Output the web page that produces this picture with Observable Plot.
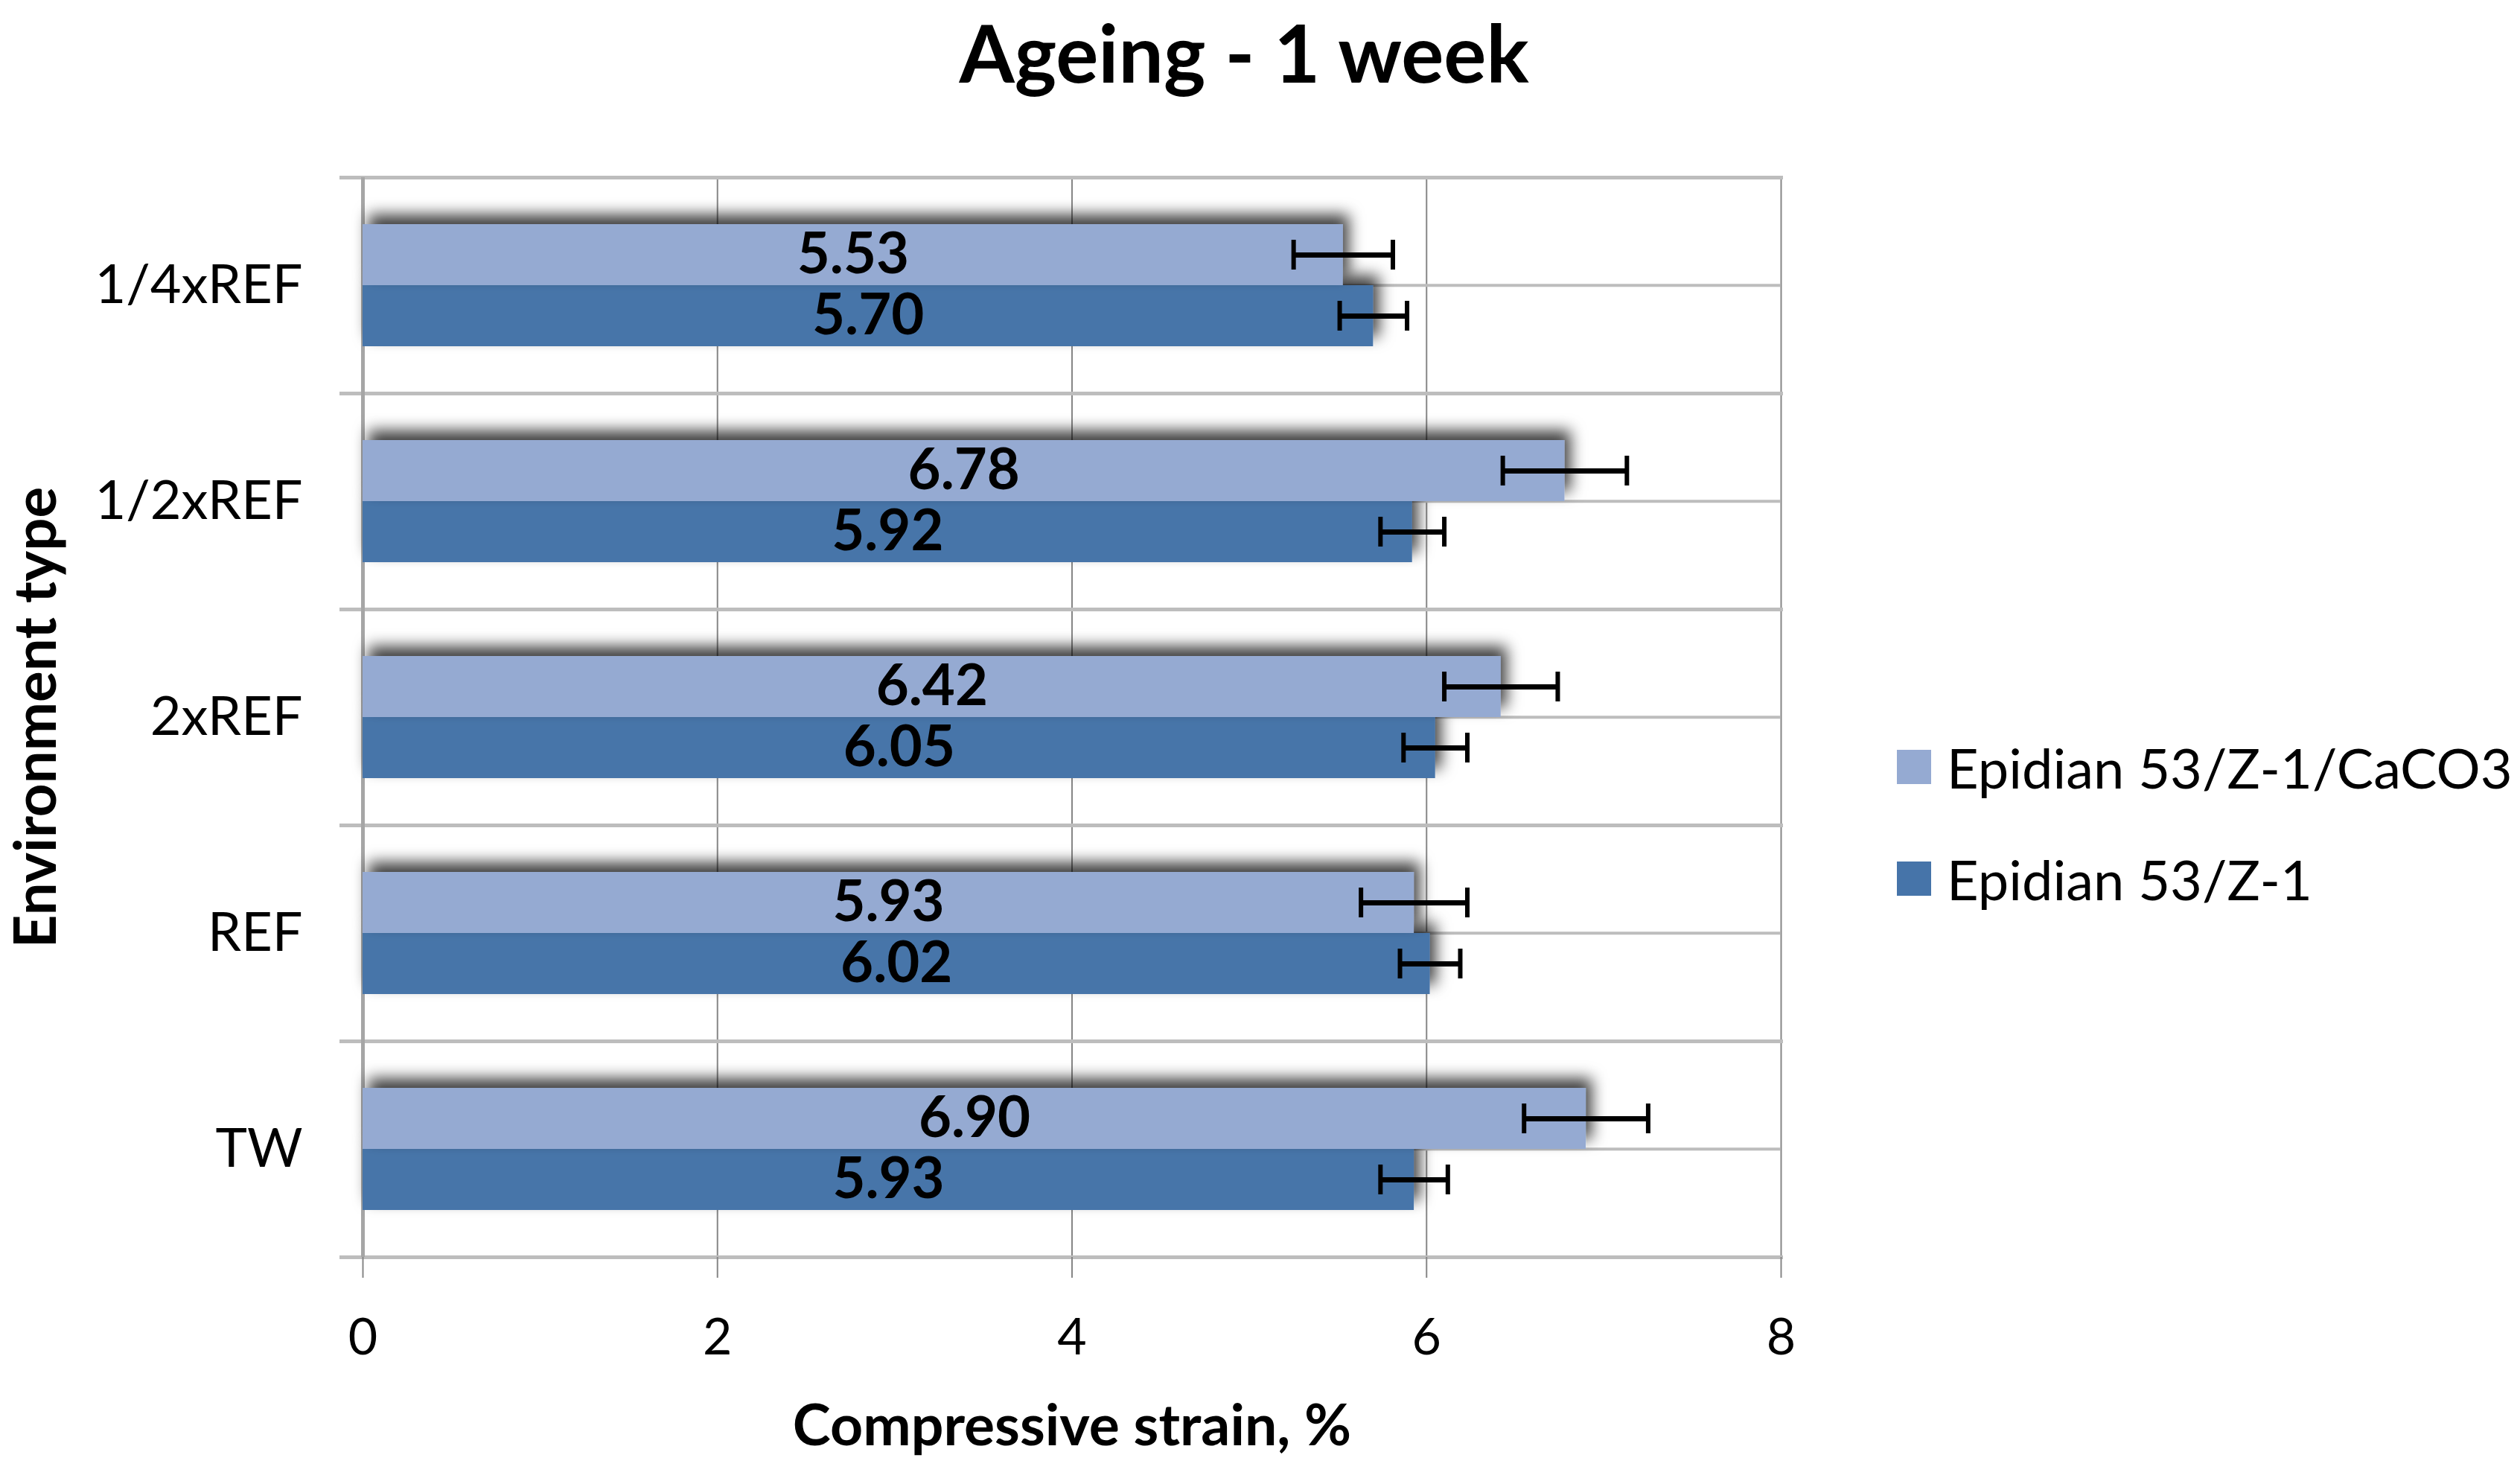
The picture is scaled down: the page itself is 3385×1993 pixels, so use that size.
<!DOCTYPE html>
<html>
<head>
<meta charset="utf-8">
<script src="https://cdn.jsdelivr.net/npm/d3@7"></script>
<script src="https://cdn.jsdelivr.net/npm/@observablehq/plot@0.6"></script>
<style>
  html, body { margin: 0; padding: 0; background: #ffffff; }
  #fig { position: relative; width: 3385px; height: 1993px; font-family: Lato, "Open Sans", sans-serif; color: #000; }
  #title { width: 3342px; height: 190px; line-height: 140px; text-align: center; font-size: 107px; font-weight: bold; }
  #row { display: flex; flex-direction: row; align-items: flex-start; }
  #legend { margin-left: 48px; padding-top: 765px; }
  .lg-row { display: flex; align-items: center; height: 150px; font-size: 74px; }
  .lg-sw { width: 46px; height: 46px; margin-right: 21px; }
</style>
</head>
<body>
<div id="fig">
  <div id="title">Ageing - 1 week</div>
  <div id="row">
    <div id="chart"></div>
    <div id="legend"></div>
  </div>
</div>
<script>
// ---- data ----
const environments = ["1/4xREF", "1/2xREF", "2xREF", "REF", "TW"];
const seriesNames = ["Epidian 53/Z-1/CaCO3", "Epidian 53/Z-1"];
const caco3Values = [5.53, 6.78, 6.42, 5.93, 6.90];
const caco3Errors = [0.28, 0.35, 0.32, 0.30, 0.35];
const z1Values = [5.70, 5.92, 6.05, 6.02, 5.93];
const z1Errors = [0.19, 0.18, 0.18, 0.17, 0.19];
const seriesColors = ["#95AAD2", "#4674A9"];
const xTicks = [0, 2, 4, 6, 8];
const xLabel = "Compressive strain, %";
const yLabel = "Environment type";

// dark series first so the light bars (and their shadow) draw on top
const rows = [];
environments.forEach((env, i) => rows.push({env, series: seriesNames[1], value: z1Values[i], err: z1Errors[i]}));
environments.forEach((env, i) => rows.push({env, series: seriesNames[0], value: caco3Values[i], err: caco3Errors[i]}));

// ---- layout ----
const W = 2500, H = 1803;
const mL = 487, mR = 108, mT = 47, mB = 305;
const yPadOuter = 0.757;
const facetH = (H - mT - mB) / environments.length;
const yStep = facetH / (2 + 2 * yPadOuter);
const gridGrey = "#868686";
const lineGrey = "#bdbdbd";

const chart = Plot.plot({
  width: W, height: H,
  marginLeft: mL, marginRight: mR, marginTop: mT, marginBottom: mB,
  style: {fontFamily: "Lato, 'Open Sans', sans-serif", fontSize: "66px", color: "#000", background: "#ffffff", overflow: "visible"},
  x: {domain: [0, 8], label: null},
  y: {domain: seriesNames, paddingInner: 0, paddingOuter: yPadOuter, axis: null, label: null},
  fy: {domain: environments, padding: 0, label: null, axis: null},
  color: {domain: seriesNames, range: seriesColors},
  marks: [
    Plot.gridX({ticks: xTicks, stroke: gridGrey, strokeOpacity: 1, strokeWidth: 2}),
    Plot.frame({anchor: "top", insetLeft: -29, stroke: lineGrey, strokeWidth: 5}),
    Plot.frame({anchor: "bottom", insetLeft: -29, stroke: lineGrey, strokeWidth: 5}),
    Plot.ruleY(environments, {fy: d => d, y: () => seriesNames[1], dy: -yStep / 2, stroke: lineGrey, strokeWidth: 4}),
    Plot.ruleX([0], {stroke: "#a6a6a6", strokeWidth: 5}),
    Plot.barX(rows, {x: "value", y: "series", fy: "env", fill: "series"}),
    Plot.ruleY(rows, {y: "series", fy: "env", x1: d => d.value - d.err, x2: d => d.value + d.err, stroke: "#000", strokeWidth: 7}),
    Plot.tickX(rows, {x: d => d.value - d.err, y: "series", fy: "env", insetTop: 21, insetBottom: 21, stroke: "#000", strokeWidth: 6}),
    Plot.tickX(rows, {x: d => d.value + d.err, y: "series", fy: "env", insetTop: 21, insetBottom: 21, stroke: "#000", strokeWidth: 6}),
    Plot.text(rows, {x: d => d.value / 2, y: "series", fy: "env", text: d => d.value.toFixed(2), fontWeight: "bold", fontSize: 76, fill: "#000"}),
    Plot.axisX({ticks: xTicks, tickSize: 28, tickPadding: 54, stroke: gridGrey, strokeWidth: 2, label: null, fontSize: 68}),
    Plot.axisX({ticks: [], tickSize: 0, label: xLabel, labelAnchor: "center", labelOffset: 252, labelArrow: false, fontWeight: "bold", fontSize: 77}),
    Plot.axisFy({anchor: "left", tickSize: 0, tickPadding: 81, label: null, fontSize: 72}),
    Plot.axisFy({anchor: "left", ticks: [], tickSize: 0, label: yLabel, labelAnchor: "center", labelOffset: 468, labelArrow: false, fontWeight: "bold", fontSize: 78})
  ]
});

// soft shadow on the bars, like the original
const svg = chart.tagName.toLowerCase() === "svg" ? chart : chart.querySelector("svg");
const ns = "http://www.w3.org/2000/svg";
const defs = document.createElementNS(ns, "defs");
defs.innerHTML = '<filter id="barShadow" x="-10%" y="-80%" width="130%" height="260%"><feDropShadow dx="8" dy="-13" stdDeviation="10" flood-color="#000" flood-opacity="0.75"/></filter>';
svg.insertBefore(defs, svg.firstChild);
d3.select(svg).selectAll('g[aria-label="bar"] rect').attr("filter", "url(#barShadow)");

document.getElementById("chart").appendChild(chart);

// legend
const legend = d3.select("#legend");
seriesNames.forEach((name, i) => {
  const r = legend.append("div").attr("class", "lg-row");
  r.append("div").attr("class", "lg-sw").style("background", seriesColors[i]);
  r.append("span").text(name);
});
</script>
</body>
</html>
